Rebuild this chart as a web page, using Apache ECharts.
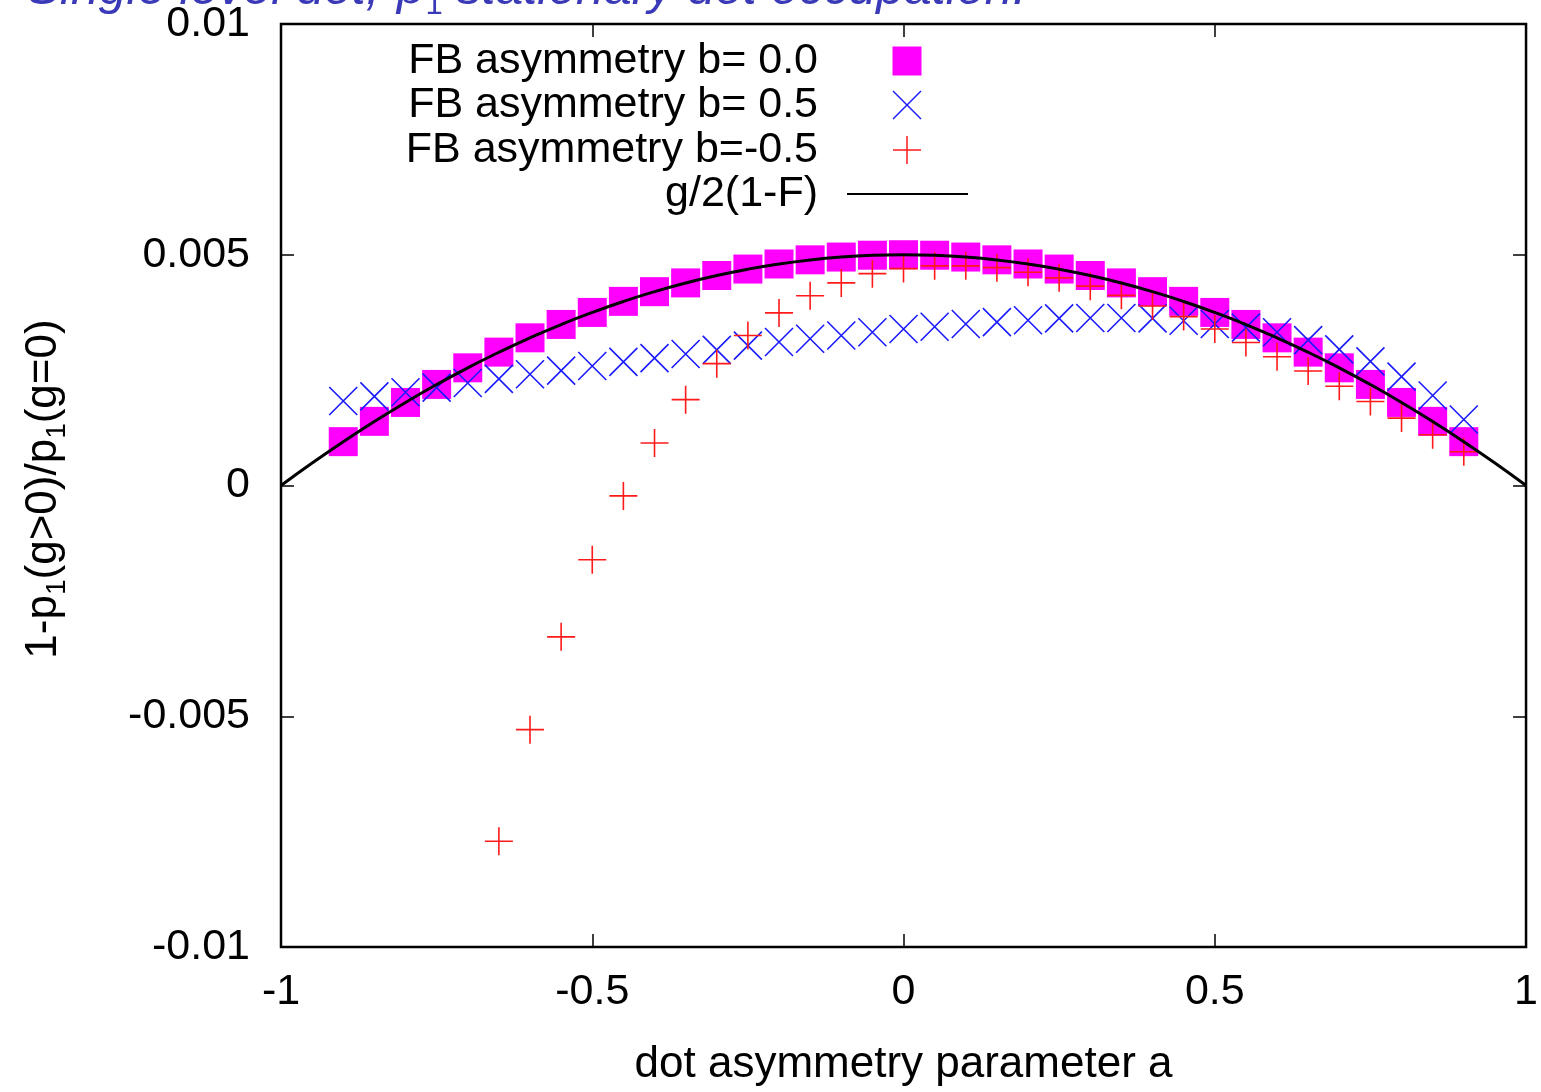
<!DOCTYPE html>
<html>
<head>
<meta charset="utf-8">
<title>1-p1(g>0)/p1(g=0) vs dot asymmetry parameter a</title>
<script src="https://cdn.jsdelivr.net/npm/echarts@6/dist/echarts.min.js"></script>
<style>
  html, body { margin: 0; padding: 0; background: #fff; overflow: hidden; }
  #chart { width: 1541px; height: 1092px; }
</style>
</head>
<body>
<div id="chart"></div>
<script>
// Dot asymmetry parameter a for the b = 0.0 and b = 0.5 runs
const aValues = [-0.9, -0.85, -0.8, -0.75, -0.7, -0.65, -0.6, -0.55, -0.5, -0.45, -0.4, -0.35, -0.3, -0.25, -0.2, -0.15, -0.1, -0.05,
  0, 0.05, 0.1, 0.15, 0.2, 0.25, 0.3, 0.35, 0.4, 0.45, 0.5, 0.55, 0.6, 0.65, 0.7, 0.75, 0.8, 0.85, 0.9];

// FB asymmetry b = 0.0
const fbB00 = [0.00095, 0.00139, 0.0018, 0.00219, 0.00255, 0.00289, 0.0032, 0.00349, 0.00375, 0.00399, 0.0042, 0.00439, 0.00455, 0.00469, 0.0048, 0.00489, 0.00495, 0.00499,
  0.005, 0.00499, 0.00495, 0.00489, 0.0048, 0.00469, 0.00455, 0.00439, 0.0042, 0.00399, 0.00375, 0.00349, 0.0032, 0.00289, 0.00255, 0.00219, 0.0018, 0.00139, 0.00095];

// FB asymmetry b = 0.5
const fbB05 = [0.00183, 0.00193, 0.00202, 0.00212, 0.00222, 0.00231, 0.00241, 0.00249, 0.00259, 0.00268, 0.00276, 0.00285, 0.00294, 0.00303, 0.00311, 0.00318, 0.00325, 0.00332,
  0.00339, 0.00344, 0.0035, 0.00354, 0.00358, 0.00362, 0.00363, 0.00363, 0.00362, 0.00357, 0.0035, 0.00342, 0.00332, 0.00315, 0.00295, 0.00269, 0.00236, 0.00195, 0.00143];

// FB asymmetry b = -0.5 (points below -0.01 fall outside the plot)
const aValuesNeg = [-0.65, -0.6, -0.55, -0.5, -0.45, -0.4, -0.35, -0.3, -0.25, -0.2, -0.15, -0.1, -0.05,
  0, 0.05, 0.1, 0.15, 0.2, 0.25, 0.3, 0.35, 0.4, 0.45, 0.5, 0.55, 0.6, 0.65, 0.7, 0.75, 0.8, 0.85, 0.9];
const fbBm05 = [-0.00771, -0.00529, -0.00328, -0.00161, -0.000225, 0.00092, 0.00186, 0.00264, 0.00325, 0.00374, 0.00411, 0.00439, 0.00459,
  0.0047, 0.00476, 0.00476, 0.00472, 0.00462, 0.0045, 0.00432, 0.00412, 0.00389, 0.00366, 0.00339, 0.0031, 0.00279, 0.00248, 0.00215, 0.00182, 0.00146, 0.0011, 0.00073];

// Reference curve g/2(1-F)
const aCurve = [-1, -0.95, -0.9, -0.85, -0.8, -0.75, -0.7, -0.65, -0.6, -0.55, -0.5, -0.45, -0.4, -0.35, -0.3, -0.25, -0.2, -0.15, -0.1, -0.05,
  0, 0.05, 0.1, 0.15, 0.2, 0.25, 0.3, 0.35, 0.4, 0.45, 0.5, 0.55, 0.6, 0.65, 0.7, 0.75, 0.8, 0.85, 0.9, 0.95, 1];
const curveValues = [0, 0.0004875, 0.00095, 0.0013875, 0.0018, 0.0021875, 0.00255, 0.0028875, 0.0032, 0.0034875, 0.00375, 0.0039875, 0.0042, 0.0043875, 0.00455, 0.0046875, 0.0048, 0.0048875, 0.00495, 0.0049875,
  0.005, 0.0049875, 0.00495, 0.0048875, 0.0048, 0.0046875, 0.00455, 0.0043875, 0.0042, 0.0039875, 0.00375, 0.0034875, 0.0032, 0.0028875, 0.00255, 0.0021875, 0.0018, 0.0013875, 0.00095, 0.0004875, 0];

// Tick labels
const xTickLabels = ['-1', '-0.5', '0', '0.5', '1'];
const yTickLabels = ['-0.01', '-0.005', '0', '0.005', '0.01'];

const seriesNames = ['FB asymmetry b= 0.0', 'FB asymmetry b= 0.5', 'FB asymmetry b=-0.5', 'g/2(1-F)'];

const FONT = '"Liberation Sans", Arial, Helvetica, sans-serif';
const MAGENTA = '#ff00ff';
const BLUE = '#1a1aff';
const RED = '#ff1a1a';
const CROSS = 'path://M0,0L10,10M10,0L0,10';
const PLUS = 'path://M5,0L5,10M0,5L10,5';

const zip = (xs, ys) => xs.map((x, i) => [x, ys[i]]);

const chart = echarts.init(document.getElementById('chart'), null, { renderer: 'canvas' });

const tickStyle = { show: true, inside: true, length: 13, lineStyle: { color: '#000', width: 1.5 } };
const hiddenLine = { show: false, onZero: false };

// Legend block: right-aligned labels with the sample marks to their right
const legendRows = [61, 105, 150, 194];
const legendTextRight = 818;
const legendMarkX = 907;
const legendGraphics = [];
seriesNames.forEach((name, i) => {
  legendGraphics.push({
    type: 'text', x: legendTextRight, y: legendRows[i], z: 100,
    style: { text: name, font: '43px ' + FONT, fill: '#000', align: 'right', verticalAlign: 'middle' }
  });
});
legendGraphics.push({
  type: 'rect', z: 100,
  shape: { x: legendMarkX - 14.5, y: legendRows[0] - 14.5, width: 29, height: 29 },
  style: { fill: MAGENTA }
});
legendGraphics.push({
  type: 'polyline', z: 100,
  shape: { points: [[legendMarkX - 14, legendRows[1] - 14], [legendMarkX + 14, legendRows[1] + 14]] },
  style: { stroke: BLUE, lineWidth: 1.5, fill: null }
});
legendGraphics.push({
  type: 'polyline', z: 100,
  shape: { points: [[legendMarkX + 14, legendRows[1] - 14], [legendMarkX - 14, legendRows[1] + 14]] },
  style: { stroke: BLUE, lineWidth: 1.5, fill: null }
});
legendGraphics.push({
  type: 'polyline', z: 100,
  shape: { points: [[legendMarkX - 14, legendRows[2]], [legendMarkX + 14, legendRows[2]]] },
  style: { stroke: RED, lineWidth: 1.5, fill: null }
});
legendGraphics.push({
  type: 'polyline', z: 100,
  shape: { points: [[legendMarkX, legendRows[2] - 14], [legendMarkX, legendRows[2] + 14]] },
  style: { stroke: RED, lineWidth: 1.5, fill: null }
});
legendGraphics.push({
  type: 'polyline', z: 100,
  shape: { points: [[847, legendRows[3]], [968, legendRows[3]]] },
  style: { stroke: '#000', lineWidth: 2, fill: null }
});

const option = {
  backgroundColor: '#ffffff',
  animation: false,
  textStyle: { fontFamily: FONT },
  grid: {
    left: 281, right: 13, top: 24, bottom: 135,
    show: true, borderColor: '#000', borderWidth: 2.5, backgroundColor: 'transparent'
  },
  xAxis: [
    {
      type: 'value', min: -1, max: 1, interval: 0.5, position: 'bottom',
      axisLine: hiddenLine,
      axisTick: tickStyle,
      splitLine: { show: false },
      axisLabel: {
        color: '#000', fontSize: 43, fontFamily: FONT, margin: 24,
        formatter: (v, i) => xTickLabels[i]
      },
      name: 'dot asymmetry parameter a',
      nameLocation: 'middle', nameGap: 96,
      nameTextStyle: { color: '#000', fontSize: 44, fontFamily: FONT }
    },
    {
      type: 'value', min: -1, max: 1, interval: 0.5, position: 'top',
      axisLine: hiddenLine, axisTick: tickStyle, axisLabel: { show: false }, splitLine: { show: false }
    }
  ],
  yAxis: [
    {
      type: 'value', min: -0.01, max: 0.01, interval: 0.005, position: 'left',
      axisLine: hiddenLine,
      axisTick: tickStyle,
      splitLine: { show: false },
      axisLabel: {
        color: '#000', fontSize: 43, fontFamily: FONT, margin: 31,
        formatter: (v, i) => yTickLabels[i]
      }
    },
    {
      type: 'value', min: -0.01, max: 0.01, interval: 0.005, position: 'right',
      axisLine: hiddenLine, axisTick: tickStyle, axisLabel: { show: false }, splitLine: { show: false }
    }
  ],
  graphic: [
    // Caption above the frame
    {
      type: 'text', x: -4, y: -10, z: 100,
      style: {
        text: '{t|- Single level dot, }{p|p}{s|1}{t| stationary dot occupation.}',
        verticalAlign: 'middle', align: 'left', fill: '#3a3ab8',
        rich: {
          t: { fontSize: 50, fontStyle: 'italic', fontFamily: FONT, fill: '#3a3ab8', lineHeight: 62 },
          p: { fontSize: 50, fontStyle: 'italic', fontFamily: 'DejaVu Serif, serif', fill: '#3a3ab8', lineHeight: 62 },
          s: { fontSize: 31, fontFamily: FONT, fill: '#3a3ab8', lineHeight: 31, verticalAlign: 'bottom' }
        }
      }
    },
    // Y axis title with subscripts
    {
      type: 'text', x: 44, y: 489, rotation: Math.PI / 2, z: 100,
      style: {
        text: '{n|1-p}{s|1}{n|(g>0)/p}{s|1}{n|(g=0)}',
        align: 'center', verticalAlign: 'middle', fill: '#000',
        rich: {
          n: { fontSize: 44, fontFamily: FONT, fill: '#000', lineHeight: 54 },
          s: { fontSize: 28, fontFamily: FONT, fill: '#000', lineHeight: 28, verticalAlign: 'bottom' }
        }
      }
    }
  ].concat(legendGraphics),
  series: [
    {
      name: seriesNames[0], type: 'scatter', z: 2,
      data: zip(aValues, fbB00),
      symbol: 'rect', symbolSize: 29,
      itemStyle: { color: MAGENTA, opacity: 1 }
    },
    {
      name: seriesNames[1], type: 'scatter', z: 3,
      data: zip(aValues, fbB05),
      symbol: CROSS, symbolSize: 28,
      itemStyle: { color: 'none', borderColor: BLUE, borderWidth: 1.6, opacity: 1 }
    },
    {
      name: seriesNames[2], type: 'scatter', z: 4,
      data: zip(aValuesNeg, fbBm05),
      symbol: PLUS, symbolSize: 28,
      itemStyle: { color: 'none', borderColor: RED, borderWidth: 1.6, opacity: 1 }
    },
    {
      name: seriesNames[3], type: 'line', z: 5,
      data: zip(aCurve, curveValues),
      smooth: true, showSymbol: false, symbol: 'none',
      lineStyle: { color: '#000', width: 3 }
    }
  ]
};

chart.setOption(option);
</script>
</body>
</html>
